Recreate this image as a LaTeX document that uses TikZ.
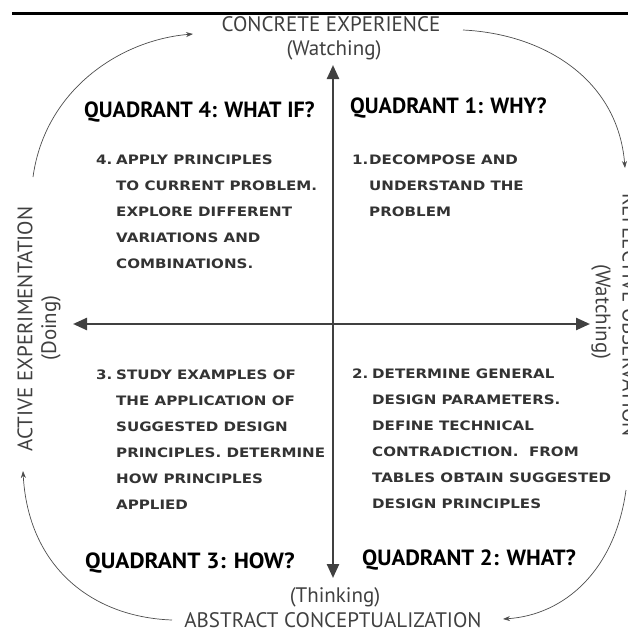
\documentclass[tikz,border=0pt]{standalone}
\usepackage{fontspec}
\usetikzlibrary{arrows.meta}
\newfontfamily\labelfont{PT Sans}
\newfontfamily\bodyfont[FakeStretch=1.16]{DejaVu Sans Bold}
\begin{document}
\begin{tikzpicture}[x=1pt,y=-1pt,
  lbl/.style={font=\labelfont\fontsize{21}{24}\selectfont, text=black!75, inner sep=0pt},
  qtitle/.style={font=\labelfont\bfseries\fontsize{22}{24}\selectfont, inner sep=0pt, anchor=west},
  qbody/.style={font=\bodyfont\fontsize{13}{26}\selectfont, text=black!80, inner sep=0pt, anchor=base west},
  axis/.style={line width=2.4pt, draw=black!75, {Triangle[length=14pt,width=12pt]}-{Triangle[length=14pt,width=12pt]}},
  cyc/.style={line width=0.7pt, draw=black!70, -{Stealth[length=7pt,width=5pt]}}]
\useasboundingbox (0,0) rectangle (628,632);
\clip (0,0) rectangle (628,632);
% top rule
\coordinate (tl) at (12,13); \coordinate (tr) at (628,13);
\draw[line width=3pt] (tl) -- (tr);
% pole labels
\node[lbl] (ce) at (331,24) {CONCRETE EXPERIENCE};
\node[lbl] (cew) at (334,50) {(Watching)};
\node[lbl] (act) at (335,597) {(Thinking)};
\node[lbl] (ac) at (333,620) {ABSTRACT CONCEPTUALIZATION};
\node[lbl, rotate=90] (ae) at (25,329) {ACTIVE EXPERIMENTATION};
\node[lbl, rotate=90] (aed) at (51,328) {(Doing)};
\node[lbl, rotate=-90] (ro) at (630,315) {REFLECTIVE OBSERVATION};
\node[lbl, rotate=-90] (row) at (601,312) {(Watching)};
% axes
\coordinate (vt) at (333,65); \coordinate (vb) at (333,578);
\coordinate (hl) at (73,324); \coordinate (hr) at (590,324);
\draw[axis] (vb) -- (vt);
\draw[axis] (hl) -- (hr);
% quadrant titles
\node[qtitle] (q4) at (84,112) {QUADRANT 4: WHAT IF?};
\node[qtitle] (q1) at (350,108) {QUADRANT 1: WHY?};
\node[qtitle, xscale=1.06] (q3) at (85,563) {QUADRANT 3: HOW?};
\node[qtitle, xscale=1.03] (q2) at (362,560) {QUADRANT 2: WHAT?};
% quadrant bodies
\node[qbody] (b4) at (96,164) {\begin{tabular}[t]{@{}p{20pt}@{}l@{}}
4.&APPLY PRINCIPLES\\
&TO CURRENT PROBLEM.\\
&EXPLORE DIFFERENT\\
&VARIATIONS AND\\
&COMBINATIONS.\end{tabular}};
\node[qbody] (b1) at (352,164) {\begin{tabular}[t]{@{}p{17pt}@{}l@{}}
1.&DECOMPOSE AND\\
&UNDERSTAND THE\\
&PROBLEM\end{tabular}};
\node[qbody] (b3) at (96,379) {\begin{tabular}[t]{@{}p{20pt}@{}l@{}}
3.&STUDY EXAMPLES OF\\
&THE APPLICATION OF\\
&SUGGESTED DESIGN\\
&PRINCIPLES. DETERMINE\\
&HOW PRINCIPLES\\
&APPLIED\end{tabular}};
\node[qbody] (b2) at (352,378) {\begin{tabular}[t]{@{}p{20pt}@{}l@{}}
2.&DETERMINE GENERAL\\
&DESIGN PARAMETERS.\\
&DEFINE TECHNICAL\\
&CONTRADICTION.\ \ FROM\\
&TABLES OBTAIN SUGGESTED\\
&DESIGN PRINCIPLES\end{tabular}};
% cycle arcs
\coordinate (a1s) at (33,177); \coordinate (a1e) at (193,34);
\draw[cyc] (a1s) .. controls (45,90) and (120,40) .. (a1e);
\coordinate (a2s) at (463,30); \coordinate (a2e) at (625,168);
\draw[cyc] (a2s) .. controls (545,34) and (618,80) .. (a2e);
\coordinate (a3s) at (626,490); \coordinate (a3e) at (503,619);
\draw[cyc] (a3s) .. controls (615,570) and (565,615) .. (a3e);
\coordinate (a4s) at (172,620); \coordinate (a4e) at (23,471);
\draw[cyc] (a4s) .. controls (90,617) and (28,565) .. (a4e);
\end{tikzpicture}
\end{document}
